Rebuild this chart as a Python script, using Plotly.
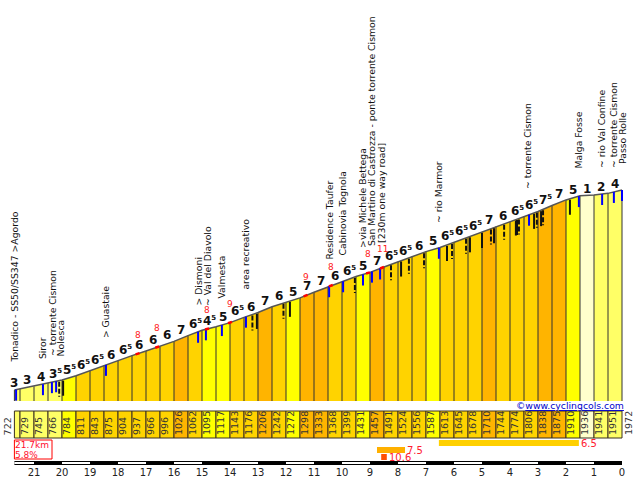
import numpy as np
import plotly.graph_objects as go

# Climb profile: Tonadico -> Passo Rolle
km_marks = [21.7, 21.5, 21, 20.5, 20, 19.5, 19, 18.5, 18, 17.5, 17, 16.5, 16, 15.5, 15,
            14.5, 14, 13.5, 13, 12.5, 12, 11.5, 11, 10.5, 10, 9.5, 9, 8.5, 8, 7.5, 7,
            6.5, 6, 5.5, 5, 4.5, 4, 3.5, 3, 2.5, 2, 1.5, 1, 0.5, 0]
elevations = [722, 729, 745, 766, 784, 811, 843, 875, 904, 937, 966, 996, 1026, 1062, 1095,
              1117, 1143, 1176, 1206, 1242, 1272, 1298, 1333, 1368, 1399, 1431, 1457, 1491,
              1524, 1556, 1587, 1613, 1645, 1678, 1710, 1744, 1774, 1806, 1838, 1875, 1910,
              1936, 1941, 1951, 1972]
gradients = [3, 3, 4, 3.5, 5.5, 6.5, 6.5, 6, 6.5, 6, 6, 6, 7, 6.5, 4.5, 5, 6.5, 6, 7, 6, 5,
             7, 7, 6, 6.5, 5, 7, 6.5, 6.5, 6, 5, 6.5, 6.5, 6.5, 7, 6, 6.5, 6.5, 7.5, 7, 5, 1, 2, 4]

blue_km = [21.64, 20.68, 20.36, 20.21, 18.43, 15.14, 14.86, 14.29, 13.43, 10.46, 9.96, 9.25,
           8.93, 8.64, 6.54, 3.32, 1.54, 0.71, 0.29, 0.0]
solid_km = [19.96, 13.04, 11.86, 7.89, 6.25, 5.43, 5.0, 4.57, 3.79, 3.75, 3.14, 2.89, 1.86]
dashed_km = [20.1, 13.2, 12.09, 9.54, 8.25, 7.61, 7.07, 6.07, 5.57, 4.68, 4.21, 3.68, 3.04, 2.82]
red_km = [17.3, 16.6, 14.82, 14.0, 11.3, 10.4, 9.07, 8.57]
red_values = [8, 8, 8, 9, 9, 8, 8, 11]

place_names = ["Tonadico - SS50/SS347 >Agordo", "Siror", "~ torrente Cismon", "Nolesca", "> Guastaie",
               "> Dismoni", "~ Val del Diavolo", "Valmesta", "area recreativo", "Residence Taufer",
               "Cabinovia Tognola", ">via Michele Bettega", "San Martino di Castrozza - ponte torrente Cismon",
               "[230m one way road]", "~ rio Marmor", "~ torrente Cismon", "Malga Fosse",
               "~ rio Val Confine", "~ torrente Cismon", "Passo Rolle"]
place_km = [21.71, 20.71, 20.36, 20.04, 18.46, 15.14, 14.82, 14.32, 13.46, 10.46, 10.0, 9.29,
            8.96, 8.61, 6.57, 3.36, 1.57, 0.75, 0.32, 0.0]
place_bottom = [365, 361, 358, 358, 340, 308, 308, 301, 292, 262, 258, 250, 248, 245, 225, 191,
                171, 170, 170, 166]

climb_km = 21.7
climb_pct = 5.8
steep_from = [6.54, 8.75, 8.6]
steep_to = [1.54, 7.75, 8.4]
steep_pct = [6.5, 7.5, 10.6]
steep_colors = ["#FFD000", "#FFB000", "#FF5000"]
steep_top = [440, 447, 454]

W, H = 638, 478
X0, PX_PER_KM = 622, 28
PLOT_BOTTOM = 401
Y_722, PX_PER_M = 390, 0.16
DARK = "#3a3020"
FONT = "DejaVu Sans"


def paper(py):
    return 1 - py / H


def grad_color(g):
    if g <= 1:
        return "#FFFFCC"
    if g <= 4:
        return "#FFFF66"
    if g <= 5.5:
        return "#FFFF00"
    if g <= 6.5:
        return "#FFD300"
    return "#FFB400"


def grad_label(g):
    if g != int(g):
        return f"<b>{int(g)}<sup><span style='font-size:7px'>5</span></sup></b>"
    return f"<b>{g}</b>"


def profile_at(km):
    return np.interp(km, km_marks[::-1], elevations[::-1])


def ticks(kms, px_len, px_gap=0):
    xs, ys = [], []
    for k in kms:
        top = profile_at(k) - px_gap / PX_PER_M
        xs += [k, k, None]
        ys += [top, top - px_len / PX_PER_M, None]
    return xs, ys


fig = go.Figure()

# filled segments
for i, g in enumerate(gradients):
    fig.add_trace(go.Scatter(x=km_marks[i:i + 2], y=elevations[i:i + 2], mode="lines",
                             line=dict(width=0), fill="tozeroy", fillcolor=grad_color(g),
                             hoverinfo="skip", showlegend=False))

# separators between segments
sep_x, sep_y = [], []
for k, e in zip(km_marks, elevations):
    sep_x += [k, k, None]
    sep_y += [0, e, None]
fig.add_trace(go.Scatter(x=sep_x, y=sep_y, mode="lines", line=dict(color="#333333", width=1),
                         hoverinfo="skip", showlegend=False))

fig.add_trace(go.Scatter(x=km_marks, y=elevations, mode="lines", line=dict(color="#555555", width=1.5),
                         showlegend=False))

# road side marks
x, y = ticks(blue_km, 11)
fig.add_trace(go.Scatter(x=x, y=y, mode="lines", line=dict(color="#0000FF", width=2), showlegend=False))
x, y = ticks(solid_km, 15, 1)
fig.add_trace(go.Scatter(x=x, y=y, mode="lines", line=dict(color="#111111", width=2), showlegend=False))
x, y = ticks(dashed_km, 15, 1)
fig.add_trace(go.Scatter(x=x, y=y, mode="lines", line=dict(color="#111111", width=2, dash="5px,2px"),
                         showlegend=False))

# red steep spots on the road
red_x, red_y = [], []
for k in red_km:
    red_x += [k + 0.07, k - 0.07, None]
    red_y += [profile_at(k + 0.07), profile_at(k - 0.07), None]
fig.add_trace(go.Scatter(x=red_x, y=red_y, mode="lines", line=dict(color="#FF0000", width=2.5),
                         showlegend=False))

for k, v in zip(red_km, red_values):
    fig.add_annotation(x=k, y=profile_at(k), yshift=19, text=str(v), showarrow=False, borderpad=0,
                       font=dict(family=FONT, size=9, color="#FF2020"))

# gradient numbers above the road
for i, g in enumerate(gradients):
    k = climb_km if i == 0 else (km_marks[i] + km_marks[i + 1]) / 2
    fig.add_annotation(x=k, y=elevations[i + 1], yshift=6, yanchor="middle", text=grad_label(g),
                       showarrow=False, borderpad=0, font=dict(family=FONT, size=12, color="#111111"))

for name, k, b in zip(place_names, place_km, place_bottom):
    fig.add_annotation(x=k, xref="x", y=paper(b), yref="paper", yanchor="bottom", text=name,
                       textangle=-90, showarrow=False, font=dict(family=FONT, size=9.3, color="#111111"))

# elevation strip
shapes = []
for i, g in enumerate(gradients):
    shapes.append(dict(type="rect", xref="x", yref="paper", x0=km_marks[i], x1=km_marks[i + 1],
                       y0=paper(438), y1=paper(411), fillcolor=grad_color(g),
                       line=dict(color=DARK, width=1)))
strip_labels = elevations[1:-1]
for i, e in enumerate(strip_labels):
    fig.add_annotation(x=km_marks[i + 1], xref="x", xanchor="center", xshift=4, y=paper(437), yref="paper",
                       yanchor="bottom", text=str(e), textangle=-90, showarrow=False,
                       font=dict(family=FONT, size=9.5, color="#333333"))
for e, k, sh in zip([elevations[0], elevations[-1]], [km_marks[0], km_marks[-1]], [-7, 6]):
    fig.add_annotation(x=k, xref="x", xshift=sh, y=paper(437), yref="paper", yanchor="bottom", text=str(e),
                       textangle=-90, showarrow=False, font=dict(family=FONT, size=9.5, color="#333333"))

# summary box
shapes.append(dict(type="rect", xref="x", yref="paper", x0=km_marks[0], x1=(X0 - 52) / PX_PER_KM,
                   y0=paper(459), y1=paper(440), line=dict(color="#FF0000", width=1), fillcolor="white"))
for txt, py in zip([f"{climb_km}km", f"{climb_pct}%"], [445, 454.5]):
    fig.add_annotation(x=km_marks[0], xref="x", xanchor="left", y=paper(py), yref="paper",
                       yanchor="middle", text=txt, showarrow=False, borderpad=0,
                       font=dict(family=FONT, size=9, color="#FF1030"))

# steepest stretches
for a, b, p, c, t in zip(steep_from, steep_to, steep_pct, steep_colors, steep_top):
    shapes.append(dict(type="rect", xref="x", yref="paper", x0=a, x1=b, y0=paper(t + 6), y1=paper(t),
                       fillcolor=c, line=dict(width=0)))
    fig.add_annotation(x=b, xref="x", xanchor="left", xshift=1, y=paper(t + 3.5), yref="paper",
                       yanchor="middle", text=str(p), showarrow=False, borderpad=0,
                       font=dict(family=FONT, size=10, color="#FF2030"))

# km scale bar
shapes.append(dict(type="rect", xref="x", yref="paper", x0=km_marks[0], x1=0, y0=paper(465), y1=paper(461),
                   fillcolor="black", line=dict(width=0)))
white_from = [21.7, 20, 18, 16, 14, 12, 10, 8, 6, 4, 2]
white_to = [21, 19, 17, 15, 13, 11, 9, 7, 5, 3, 1]
for a, b in zip(white_from, white_to):
    shapes.append(dict(type="rect", xref="x", yref="paper", x0=a, x1=b, y0=paper(464), y1=paper(462),
                       fillcolor="white", line=dict(width=0)))

fig.add_annotation(x=(X0 - 626) / PX_PER_KM, xref="x", y=paper(405.5), yref="paper", yanchor="middle",
                   showarrow=False, text="©<u>www.cyclingcols.com</u>", xanchor="right",
                   font=dict(family=FONT, size=9.3, color="#0000CC"))

fig.update_layout(
    width=W, height=H, margin=dict(l=0, r=0, t=0, b=0), paper_bgcolor="white", plot_bgcolor="white",
    showlegend=False, shapes=shapes,
    xaxis=dict(range=[X0 / PX_PER_KM, (X0 - W) / PX_PER_KM], showgrid=False, zeroline=False,
               anchor="free", position=paper(465), tickmode="array", tickvals=list(range(0, 22)),
               tickfont=dict(family=FONT, size=10, color="#222222"), ticks="", showline=False),
    yaxis=dict(domain=[paper(PLOT_BOTTOM), 1], visible=False,
               range=[722 - (PLOT_BOTTOM - Y_722) / PX_PER_M, 722 + Y_722 / PX_PER_M]),
)

fig.write_html("out.html", config={"displayModeBar": False},
               post_script="document.body.style.margin='0';")
